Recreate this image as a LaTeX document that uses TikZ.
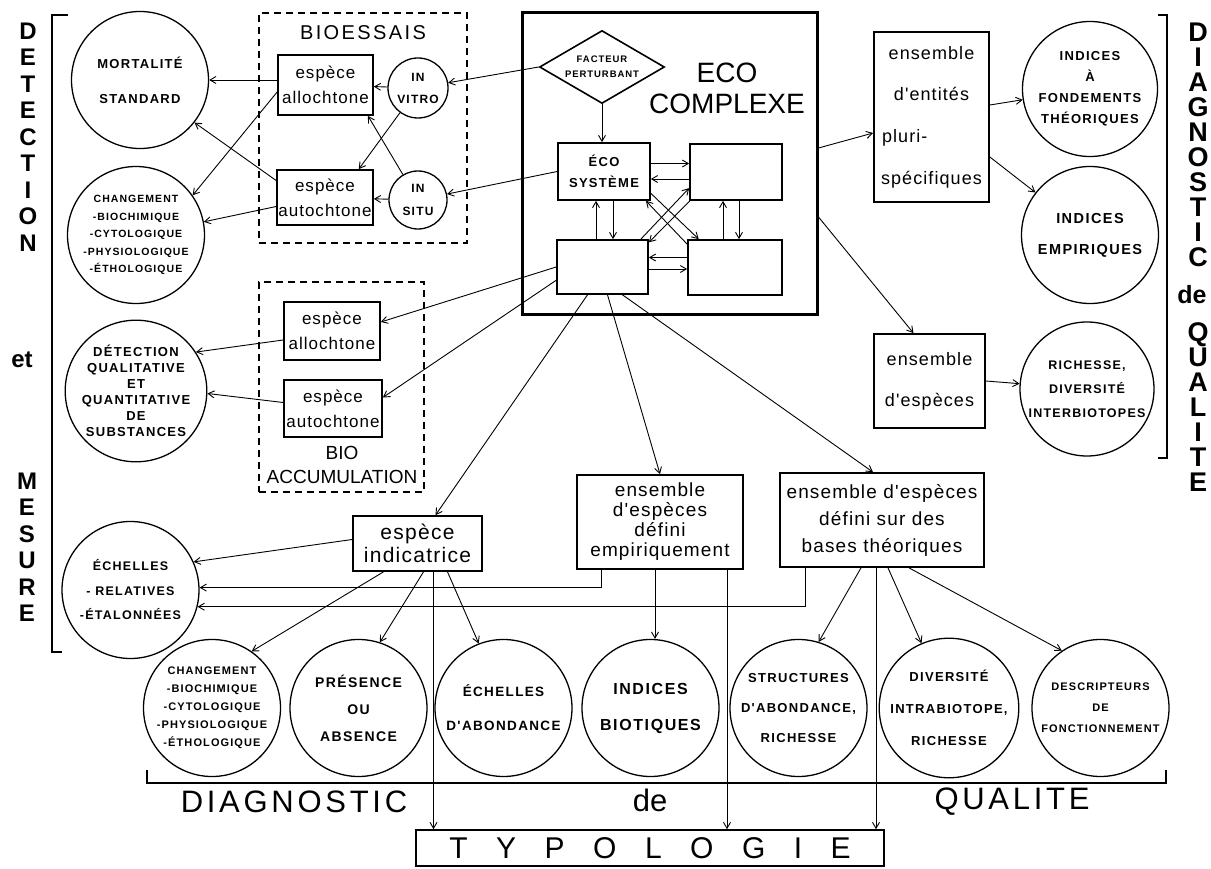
\documentclass[tikz,border=0pt]{standalone}
\usepackage{fontspec}
\setmainfont{Liberation Sans}
\newfontfamily\capsfont[LetterSpace=10]{Liberation Sans}
\newfontfamily\handfont[LetterSpace=6]{Liberation Sans}
\newfontfamily\wideletters[LetterSpace=12]{Liberation Sans}
\usepackage{tikz}
\usetikzlibrary{arrows.meta,shapes,positioning}
\newcommand{\capset}[2]{\capsfont\bfseries\fontsize{#1}{#2}\selectfont}
\newcommand{\handset}[2]{\handfont\fontsize{#1}{#2}\selectfont}
\newcommand{\tsp}{\hspace{28.5pt}}
\tikzstyle{arrow} = [line width=0.9pt,-{Straight Barb[length=6pt,width=7pt]}]
\tikzstyle{ring} = [circle, draw, line width=1.3pt, minimum size=137pt, inner sep=0pt, align=center]
\tikzstyle{sbox} = [rectangle, draw, line width=1.7pt, inner sep=0pt, align=center, font=\handset{17}{25}]
\tikzstyle{dashframe} = [rectangle, draw, line width=1.5pt, dash pattern=on 7pt off 5pt]
\tikzstyle{sidetext} = [align=center, inner sep=0pt, font=\bfseries\fontsize{24}{26.5}\selectfont]
\tikzstyle{sideright} = [align=center, inner sep=0pt, font=\bfseries\fontsize{27}{25}\selectfont]
\tikzstyle{bracket} = [line width=2.5pt]

\begin{document}
\begin{tikzpicture}[x=1pt,y=-1pt]
\fill[white] (0,0) rectangle (1211,869);
\useasboundingbox (0,0) rectangle (1211,869);

% Side titles
\node[sidetext] (detect) at (28,137) {D\\E\\T\\E\\C\\T\\I\\O\\N};
\node[sidetext] (et) at (22,360) {et};
\node[sidetext] (mesure) at (27,547) {M\\E\\S\\U\\R\\E};
\node[sideright] (diag) at (1198,145) {D\\I\\A\\G\\N\\O\\S\\T\\I\\C};
\node[sideright, font=\bfseries\fontsize{25}{25}\selectfont] (dediag) at (1192,295) {de};
\node[sideright] (qualit) at (1198,407) {Q\\U\\A\\L\\I\\T\\E};
\draw[bracket] (68,15) -- (52,15) -- (52,652) -- (62,652);
\draw[bracket] (1158,15) -- (1167,15) -- (1167,458) -- (1158,458);
\draw[bracket] (147,770) -- (147,783) -- (1166,783) -- (1166,770);

% Frames
\node[dashframe, minimum width=208pt, minimum height=230pt] (bioframe) at (363,128) {};
\node[font=\wideletters\fontsize{20}{24}\selectfont] (biotitle) at (363,33) {BIOESSAIS};
\node[dashframe, minimum width=165pt, minimum height=210pt] (accframe) at (341.5,387) {};
\node[align=center, font=\fontsize{19}{24}\selectfont] (acctitle) at (342,465) {BIO\\ACCUMULATION};
\node[draw, line width=3pt, minimum width=295pt, minimum height=302pt] (ecoframe) at (669.5,164) {};
\node[align=center, font=\fontsize{28}{31}\selectfont] (ecotitle) at (727,88) {ECO\\COMPLEXE};

% Bioessais
\node[ring, font=\capset{13}{35}] (mort) at (140,80) {MORTALITÉ\\STANDARD};
\node[ring, font=\capset{10.5}{17.5}] (chg1) at (136,235) {CHANGEMENT\\-BIOCHIMIQUE\\-CYTOLOGIQUE\\-PHYSIOLOGIQUE\\-ÉTHOLOGIQUE};
\node[sbox, minimum width=95pt, minimum height=60pt] (allo1) at (325.5,85) {espèce\\allochtone};
\node[sbox, minimum width=96pt, minimum height=55pt] (auto1) at (325,197.5) {espèce\\autochtone};
\node[ring, minimum size=60pt, font=\capset{12}{22}] (vitro) at (418,88) {IN\\VITRO};
\node[ring, minimum size=58pt, font=\capset{12}{23}] (situ) at (418,200) {IN\\SITU};

% Bioaccumulation
\node[ring, font=\capset{13}{16}] (detq) at (136,391) {DÉTECTION\\QUALITATIVE\\ET\\QUANTITATIVE\\DE\\SUBSTANCES};
\node[sbox, minimum width=96pt, minimum height=58pt] (allo2) at (332,331) {espèce\\allochtone};
\node[sbox, minimum width=98pt, minimum height=57pt] (auto2) at (333,408.5) {espèce\\autochtone};

% Ecocomplexe
\node[diamond, draw, line width=1.6pt, aspect=1.7, inner sep=0pt, minimum width=125pt, minimum height=73pt, align=center, font=\capset{9.5}{15}] (facteur) at (602,67) {FACTEUR\\PERTURBANT};
\node[sbox, minimum width=92pt, minimum height=57pt, font=\capset{13}{21}] (ecosys) at (604,171.5) {ÉCO\\SYSTÈME};
\node[sbox, minimum width=92pt, minimum height=56pt] (trb) at (736,172) {};
\node[sbox, minimum width=91pt, minimum height=54pt] (blb) at (602.5,267) {};
\node[sbox, minimum width=94pt, minimum height=55pt] (brb) at (735,267.5) {};

% Right column
\node[sbox, minimum width=115pt, minimum height=170pt, font=\handset{18}{41.7}] (entites) at (931.5,117) {ensemble\\d'entités\\pluri-\hphantom{fiques}\\spécifiques};
\node[ring, minimum size=135pt, font=\capset{13}{21}] (ifond) at (1090,89) {INDICES\\À\\FONDEMENTS\\THÉORIQUES};
\node[ring, font=\capset{14.5}{31}] (iemp) at (1090,235) {INDICES\\EMPIRIQUES};
\node[sbox, minimum width=111pt, minimum height=94pt, font=\handset{18}{41}] (especes) at (929.5,381) {ensemble\\d'espèces};
\node[ring, minimum size=134pt, font=\capset{12.5}{24}] (riche) at (1087,389) {RICHESSE,\\DIVERSITÉ\\INTERBIOTOPES};

% Middle row
\node[ring, font=\capset{12.5}{24.5}] (echel) at (130.5,590) {ÉCHELLES\\-~RELATIVES\\-ÉTALONNÉES};
\node[sbox, minimum width=129pt, minimum height=55pt, font=\handset{21}{23}] (indic) at (417.5,543.5) {espèce\\indicatrice};
\node[sbox, minimum width=166pt, minimum height=94pt, font=\handset{19}{20}] (empir) at (660,522) {ensemble\\d'espèces\\défini\\empiriquement};
\node[sbox, minimum width=204pt, minimum height=94pt, font=\handset{19}{27}] (theor) at (882,520) {ensemble d'espèces\\défini sur des\\bases théoriques};

% Bottom row
\node[ring, font=\capset{11}{18}] (chg2) at (212,708) {CHANGEMENT\\-BIOCHIMIQUE\\-CYTOLOGIQUE\\-PHYSIOLOGIQUE\\-ÉTHOLOGIQUE};
\node[ring, font=\capset{14}{27}] (pres) at (358.5,708) {PRÉSENCE\\OU\\ABSENCE};
\node[ring, font=\capset{13.5}{34}] (echab) at (503.5,708) {ÉCHELLES\\D'ABONDANCE};
\node[ring, font=\capset{16}{36}] (ibio) at (650.5,708) {INDICES\\BIOTIQUES};
\node[ring, font=\capset{13}{30}] (struc) at (798.5,708) {STRUCTURES\\D'ABONDANCE,\\RICHESSE};
\node[ring, font=\capset{13}{32}] (divers) at (949,708) {DIVERSITÉ\\INTRABIOTOPE,\\RICHESSE};
\node[ring, font=\capset{11}{21}] (descr) at (1100.5,708) {DESCRIPTEURS\\DE\\FONCTIONNEMENT};
\node[font=\wideletters\fontsize{31}{33}\selectfont] (diagb) at (294,802) {DIAGNOSTIC};
\node[font=\fontsize{31}{33}\selectfont] (deb) at (650,800) {de};
\node[font=\wideletters\fontsize{31}{33}\selectfont] (qualb) at (1012,802) {QUALITE};
\node[draw, line width=1.6pt, minimum width=468pt, minimum height=36pt, font=\fontsize{30}{32}\selectfont] (typo) at (650,848) {T\tsp Y\tsp P\tsp O\tsp L\tsp O\tsp G\tsp I\tsp E};

% Connections bioessais
\draw[arrow] ([yshift=5pt]allo1.west) -- (mort.east);
\draw[arrow] ([yshift=-7pt]allo1.west) -- (chg1.35);
\draw[arrow] ([yshift=17pt]auto1.west) -- (mort.-38);
\draw[arrow] ([yshift=-9pt]auto1.west) -- (chg1.11);
\draw[arrow] (vitro) -- (allo1);
\draw[arrow] (situ) -- (auto1);
\draw[arrow] (vitro) -- (auto1.40);
\draw[arrow] (situ) -- (allo1.-36);
\draw[arrow] (facteur.west) -- (vitro);
\draw[arrow] (ecosys.west) -- (situ);

% Connections bioaccumulation
\draw[arrow] ([yshift=-9pt]allo2.west) -- (detq.33);
\draw[arrow] ([yshift=6pt]auto2.west) -- (detq.-2);
\draw[arrow] (blb.west) -- ([yshift=9pt]allo2.east);
\draw[arrow] (blb.196) -- ([yshift=11pt]auto2.east);

% Inside the ecocomplexe
\draw[arrow] (facteur.south) -- (facteur.south |- ecosys.north);
\draw[arrow] ([yshift=8pt]ecosys.east) -- ([yshift=8pt]ecosys.east -| trb.west);
\draw[arrow] ([yshift=-7pt]trb.west) -- ([yshift=-7pt]trb.west -| ecosys.east);
\draw[arrow] ([xshift=-8pt]ecosys.south |- blb.north) -- ([xshift=-8pt]ecosys.south);
\draw[arrow] ([xshift=9pt]ecosys.south) -- ([xshift=9pt]ecosys.south |- blb.north);
\draw[arrow] ([xshift=-13pt]trb.south |- brb.north) -- ([xshift=-13pt]trb.south);
\draw[arrow] ([xshift=3pt]trb.south) -- ([xshift=3pt]trb.south |- brb.north);
\draw[arrow] ([yshift=10pt]brb.west) -- ([yshift=10pt]brb.west -| blb.east);
\draw[arrow] ([yshift=-2pt]blb.east) -- ([yshift=-2pt]blb.east -| brb.west);
\draw[arrow] (ecosys.-25) -- (brb.142);
\draw[arrow] (brb.154) -- (ecosys.-35);
\draw[arrow] (blb.36) -- (trb.199);
\draw[arrow] (trb.212) -- (blb.28);

% Toward the right
\draw[arrow] ([yshift=16pt]ecoframe.east) -- ([yshift=-16pt]entites.west);
\draw[arrow] ([yshift=-53pt]ecoframe.east) -- ([xshift=-16pt]especes.north);
\draw[arrow] ([yshift=12pt]entites.east) -- (ifond);
\draw[arrow] ([yshift=-40pt]entites.east) -- (iemp);
\draw[arrow] (especes.east) -- (riche);

% Downward
\draw[arrow] ([xshift=-15pt]blb.south) -- ([xshift=18pt]indic.north);
\draw[arrow] ([xshift=5pt]blb.south) -- (empir.north);
\draw[arrow] ([xshift=20pt]blb.south) -- ([xshift=-9pt]theor.north);

% Bottom connections
\draw[arrow] ([yshift=4pt]indic.west) -- (echel.24);
\draw[arrow] ([xshift=-59pt]empir.south) |- (echel.2);
\draw[arrow] ([xshift=-77pt]theor.south) |- (echel.-14);
\draw[arrow] ([xshift=-34pt]indic.south) -- (chg2.55);
\draw[arrow] ([xshift=6pt]indic.south) -- (pres.72);
\draw[arrow] ([xshift=30pt]indic.south) -- (echab.111);
\draw[arrow] ([xshift=16pt]indic.south) -- ([xshift=16pt]indic.south |- typo.north);
\draw[arrow] ([xshift=-5pt]empir.south) -- ([xshift=-5pt]empir.south |- ibio.north);
\draw[arrow] ([xshift=67pt]empir.south) -- ([xshift=67pt]empir.south |- typo.north);
\draw[arrow] ([xshift=-21pt]theor.south) -- (struc.73);
\draw[arrow] ([xshift=-6pt]theor.south) -- ([xshift=-6pt]theor.south |- typo.north);
\draw[arrow] ([xshift=6pt]theor.south) -- (divers.113);
\draw[arrow] ([xshift=27pt]theor.south) -- (descr.124);
\end{tikzpicture}
\end{document}
